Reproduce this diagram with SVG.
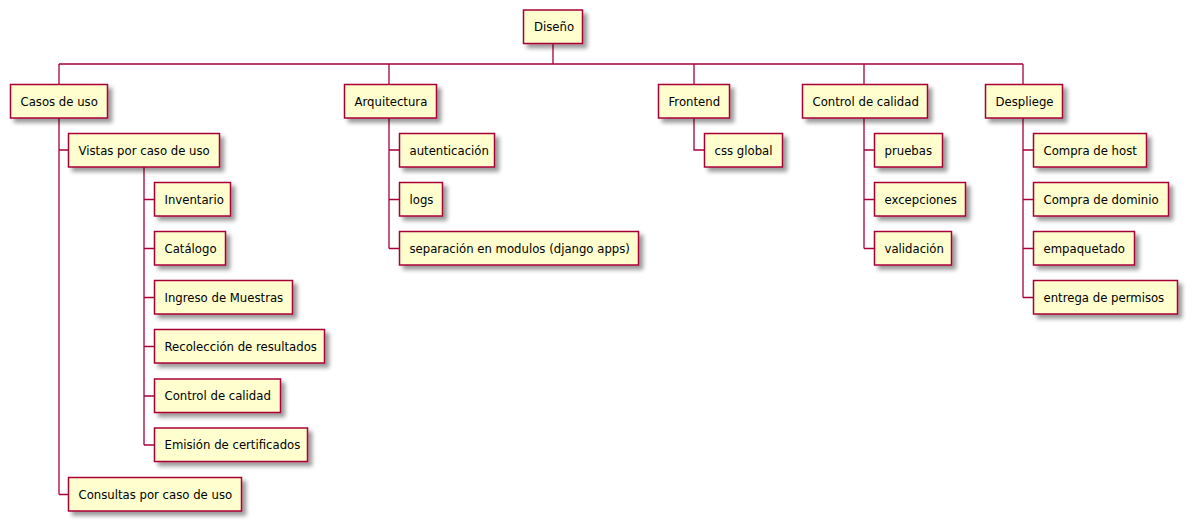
<svg xmlns="http://www.w3.org/2000/svg" width="1195" height="529" viewBox="0 0 1195 529">
<style>
.n rect{fill:#FEFECE;stroke:#A80036;stroke-width:1.5;filter:url(#sh)}
.n text{font-family:"DejaVu Sans","Liberation Sans",sans-serif;font-size:11.7px;fill:#000}
#connectors path{fill:none;stroke:#A80036;stroke-width:1.3}
</style>
<defs>
<filter id="sh" x="-20%" y="-30%" width="150%" height="180%">
<feGaussianBlur in="SourceAlpha" stdDeviation="2"/>
<feOffset dx="4" dy="4" result="b"/>
<feComponentTransfer><feFuncA type="linear" slope="0.4"/></feComponentTransfer>
<feMerge><feMergeNode/><feMergeNode in="SourceGraphic"/></feMerge>
</filter>
</defs>
<rect width="1195" height="529" fill="#fff"/>
<g id="connectors">
<path d="M553,43.5V64M59,64H1023M59,64V84.5M389,64V84.5M694,64V84.5M864,64V84.5M1023,64V84.5"/>
<path d="M59,118V494.5M59,150H68M59,494.5H68"/>
<path d="M144,167V445M144,199.5H154M144,248.5H154M144,297.5H154M144,346.5H154M144,396H154M144,445H154"/>
<path d="M389,118V248.5M389,150H399M389,199.5H399M389,248.5H399"/>
<path d="M694,118V150H704"/>
<path d="M864,118V248.5M864,150H874M864,199.5H874M864,248.5H874"/>
<path d="M1023,118V297.5M1023,150H1033M1023,199.5H1033M1023,248.5H1033M1023,297.5H1033"/>
</g>
<g id="n0" class="n"><rect x="523.5" y="10" width="59" height="33.5"/><text x="534" y="31">Diseño</text></g>
<g id="n1" class="n"><rect x="10.5" y="84.5" width="97" height="33.5"/><text x="20.5" y="105.5">Casos de uso</text></g>
<g id="n2" class="n"><rect x="68.5" y="133.5" width="151" height="33.5"/><text x="78.5" y="154.5">Vistas por caso de uso</text></g>
<g id="n3" class="n"><rect x="154.5" y="182.5" width="76" height="33.5"/><text x="164.5" y="203.5">Inventario</text></g>
<g id="n4" class="n"><rect x="154.5" y="231.5" width="71" height="33.5"/><text x="164.5" y="252.5">Catálogo</text></g>
<g id="n5" class="n"><rect x="154.5" y="280.5" width="138" height="33.5"/><text x="164.5" y="301.5">Ingreso de Muestras</text></g>
<g id="n6" class="n"><rect x="154.5" y="329.5" width="170" height="33.5"/><text x="164.5" y="350.5">Recolección de resultados</text></g>
<g id="n7" class="n"><rect x="154.5" y="379" width="126" height="33.5"/><text x="164.5" y="400">Control de calidad</text></g>
<g id="n8" class="n"><rect x="154.5" y="428" width="153" height="33.5"/><text x="164.5" y="449">Emisión de certificados</text></g>
<g id="n9" class="n"><rect x="68.5" y="477.5" width="173" height="33.5"/><text x="78.5" y="498.5">Consultas por caso de uso</text></g>
<g id="n10" class="n"><rect x="344.5" y="84.5" width="92" height="33.5"/><text x="354.5" y="105.5">Arquitectura</text></g>
<g id="n11" class="n"><rect x="399.5" y="133.5" width="95" height="33.5"/><text x="409.5" y="154.5">autenticación</text></g>
<g id="n12" class="n"><rect x="399.5" y="182.5" width="43" height="33.5"/><text x="409.5" y="203.5">logs</text></g>
<g id="n13" class="n"><rect x="399.5" y="231.5" width="239" height="33.5"/><text x="409.5" y="252.5">separación en modulos (django apps)</text></g>
<g id="n14" class="n"><rect x="658.5" y="84.5" width="71" height="33.5"/><text x="668.5" y="105.5">Frontend</text></g>
<g id="n15" class="n"><rect x="704.5" y="133.5" width="78" height="33.5"/><text x="714.5" y="154.5">css global</text></g>
<g id="n16" class="n"><rect x="802.5" y="84.5" width="125" height="33.5"/><text x="812.5" y="105.5">Control de calidad</text></g>
<g id="n17" class="n"><rect x="874.5" y="133.5" width="68" height="33.5"/><text x="884.5" y="154.5">pruebas</text></g>
<g id="n18" class="n"><rect x="874.5" y="182.5" width="91" height="33.5"/><text x="884.5" y="203.5">excepciones</text></g>
<g id="n19" class="n"><rect x="874.5" y="231.5" width="77" height="33.5"/><text x="884.5" y="252.5">validación</text></g>
<g id="n20" class="n"><rect x="985.5" y="84.5" width="77" height="33.5"/><text x="995.5" y="105.5">Despliege</text></g>
<g id="n21" class="n"><rect x="1033.5" y="133.5" width="113" height="33.5"/><text x="1043.5" y="154.5">Compra de host</text></g>
<g id="n22" class="n"><rect x="1033.5" y="182.5" width="135" height="33.5"/><text x="1043.5" y="203.5">Compra de dominio</text></g>
<g id="n23" class="n"><rect x="1033.5" y="231.5" width="101" height="33.5"/><text x="1043.5" y="252.5">empaquetado</text></g>
<g id="n24" class="n"><rect x="1033.5" y="280.5" width="144" height="33.5"/><text x="1043.5" y="301.5">entrega de permisos</text></g>
</svg>
